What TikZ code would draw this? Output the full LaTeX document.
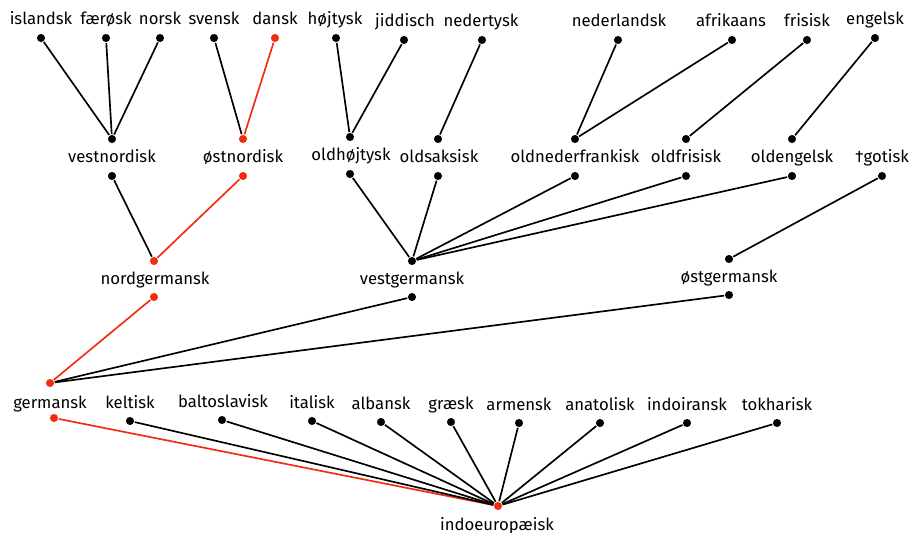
\documentclass[tikz,border=0pt]{standalone}
\usepackage{fontspec}
\setmainfont{Fira Sans}
\definecolor{linered}{RGB}{240,45,15}

\begin{document}
\begin{tikzpicture}[x=0.02cm,y=-0.02cm,
    every node/.style={font=\fontsize{9.5}{11}\selectfont},
    lbl/.style={anchor=base,inner sep=0pt},
    dot/.style={circle,fill,inner sep=0pt,minimum size=4.6pt},
    hl/.style={linered},
    every path/.style={line width=0.95pt}]
  \useasboundingbox (0,0) rectangle (912,533);
  % leaves: nordisk
  \node[dot] (isl) at (41,38) {};   \node[lbl] (isl-l) at (41,25) {islandsk};
  \node[dot] (fae) at (106,38) {};  \node[lbl] (fae-l) at (106,25) {færøsk};
  \node[dot] (nor) at (160,38) {};  \node[lbl] (nor-l) at (160,25) {norsk};
  \node[dot] (sve) at (214,38) {};  \node[lbl] (sve-l) at (214,25) {svensk};
  \node[dot,linered] (dan) at (275,38) {}; \node[lbl] (dan-l) at (275,25) {dansk};
  % leaves: vestgermansk
  \node[dot] (hoj) at (336,38) {};  \node[lbl] (hoj-l) at (335,25) {højtysk};
  \node[dot] (jid) at (404,40) {};  \node[lbl] (jid-l) at (405,27) {jiddisch};
  \node[dot] (ndt) at (482,40) {};  \node[lbl] (ndt-l) at (481,27) {nedertysk};
  \node[dot] (ndl) at (618,40) {};  \node[lbl] (ndl-l) at (619,27) {nederlandsk};
  \node[dot] (afr) at (732,40) {};  \node[lbl] (afr-l) at (731,27) {afrikaans};
  \node[dot] (fri) at (807,40) {};  \node[lbl] (fri-l) at (807,27) {frisisk};
  \node[dot] (eng) at (875,38) {};  \node[lbl] (eng-l) at (875,25) {engelsk};

  % middle row (top dot, label, bottom dot)
  \node[dot] (vnd-t) at (112,139) {};
  \node[lbl] (vnd) at (112,163) {vestnordisk};
  \node[dot] (vnd-b) at (112,176) {};
  \node[dot,linered] (ond-t) at (243,139) {};
  \node[lbl] (ond) at (243,163) {østnordisk};
  \node[dot,linered] (ond-b) at (243,176) {};
  \node[dot] (ohd-t) at (350,137) {};
  \node[lbl] (ohd) at (351,161) {oldhøjtysk};
  \node[dot] (ohd-b) at (350,174) {};
  \node[dot] (osa-t) at (438,139) {};
  \node[lbl] (osa) at (439,163) {oldsaksisk};
  \node[dot] (osa-b) at (438,176) {};
  \node[dot] (onf-t) at (575,139) {};
  \node[lbl] (onf) at (575,163) {oldnederfrankisk};
  \node[dot] (onf-b) at (575,176) {};
  \node[dot] (ofr-t) at (686,139) {};
  \node[lbl] (ofr) at (686,163) {oldfrisisk};
  \node[dot] (ofr-b) at (686,176) {};
  \node[dot] (oen-t) at (792,139) {};
  \node[lbl] (oen) at (792,163) {oldengelsk};
  \node[dot] (oen-b) at (792,176) {};
  \node[lbl] (got) at (882,163) {†gotisk};
  \node[dot] (got-b) at (882,176) {};

  % germanske grene
  \node[dot,linered] (ngm-t) at (154,261) {};
  \node[lbl] (ngm) at (155,285) {nordgermansk};
  \node[dot,linered] (ngm-b) at (154,297) {};
  \node[dot] (vgm-t) at (412,261) {};
  \node[lbl] (vgm) at (412,285) {vestgermansk};
  \node[dot] (vgm-b) at (412,297) {};
  \node[dot] (ogm-t) at (729,259) {};
  \node[lbl] (ogm) at (729,283) {østgermansk};
  \node[dot] (ogm-b) at (729,295) {};

  % indoeuropæiske grene
  \node[dot,linered] (ger-t) at (50,383) {};
  \node[lbl] (ger) at (50,408) {germansk};
  \node[dot,linered] (ger-b) at (54,418) {};
  \node[dot] (kel) at (130,421) {}; \node[lbl] (kel-l) at (130,408) {keltisk};
  \node[dot] (bal) at (222,420) {}; \node[lbl] (bal-l) at (223,407) {baltoslavisk};
  \node[dot] (ita) at (312,421) {}; \node[lbl] (ita-l) at (312,408) {italisk};
  \node[dot] (alb) at (381,422) {}; \node[lbl] (alb-l) at (381,409) {albansk};
  \node[dot] (gra) at (451,422) {}; \node[lbl] (gra-l) at (451,409) {græsk};
  \node[dot] (arm) at (519,423) {}; \node[lbl] (arm-l) at (519,410) {armensk};
  \node[dot] (ana) at (600,423) {}; \node[lbl] (ana-l) at (600,410) {anatolisk};
  \node[dot] (ira) at (687,423) {}; \node[lbl] (ira-l) at (687,410) {indoiransk};
  \node[dot] (tok) at (777,423) {}; \node[lbl] (tok-l) at (777,410) {tokharisk};

  % roden
  \node[dot,linered] (ie) at (498,506) {};
  \node[lbl] (ie-l) at (497,530) {indoeuropæisk};

  % forbindelser
  \draw (isl) -- (vnd-t); \draw (fae) -- (vnd-t); \draw (nor) -- (vnd-t);
  \draw (sve) -- (ond-t); \draw[hl] (dan) -- (ond-t);
  \draw (hoj) -- (ohd-t); \draw (jid) -- (ohd-t);
  \draw (ndt) -- (osa-t);
  \draw (ndl) -- (onf-t); \draw (afr) -- (onf-t);
  \draw (fri) -- (ofr-t);
  \draw (eng) -- (oen-t);
  \draw (vnd-b) -- (ngm-t); \draw[hl] (ond-b) -- (ngm-t);
  \draw (ohd-b) -- (vgm-t); \draw (osa-b) -- (vgm-t); \draw (onf-b) -- (vgm-t);
  \draw (ofr-b) -- (vgm-t); \draw (oen-b) -- (vgm-t);
  \draw (got-b) -- (ogm-t);
  \draw[hl] (ngm-b) -- (ger-t); \draw (vgm-b) -- (ger-t); \draw (ogm-b) -- (ger-t);
  \draw[hl] (ger-b) -- (ie);
  \draw (kel) -- (ie); \draw (bal) -- (ie); \draw (ita) -- (ie); \draw (alb) -- (ie);
  \draw (gra) -- (ie); \draw (arm) -- (ie); \draw (ana) -- (ie); \draw (ira) -- (ie);
  \draw (tok) -- (ie);
\end{tikzpicture}
\end{document}
